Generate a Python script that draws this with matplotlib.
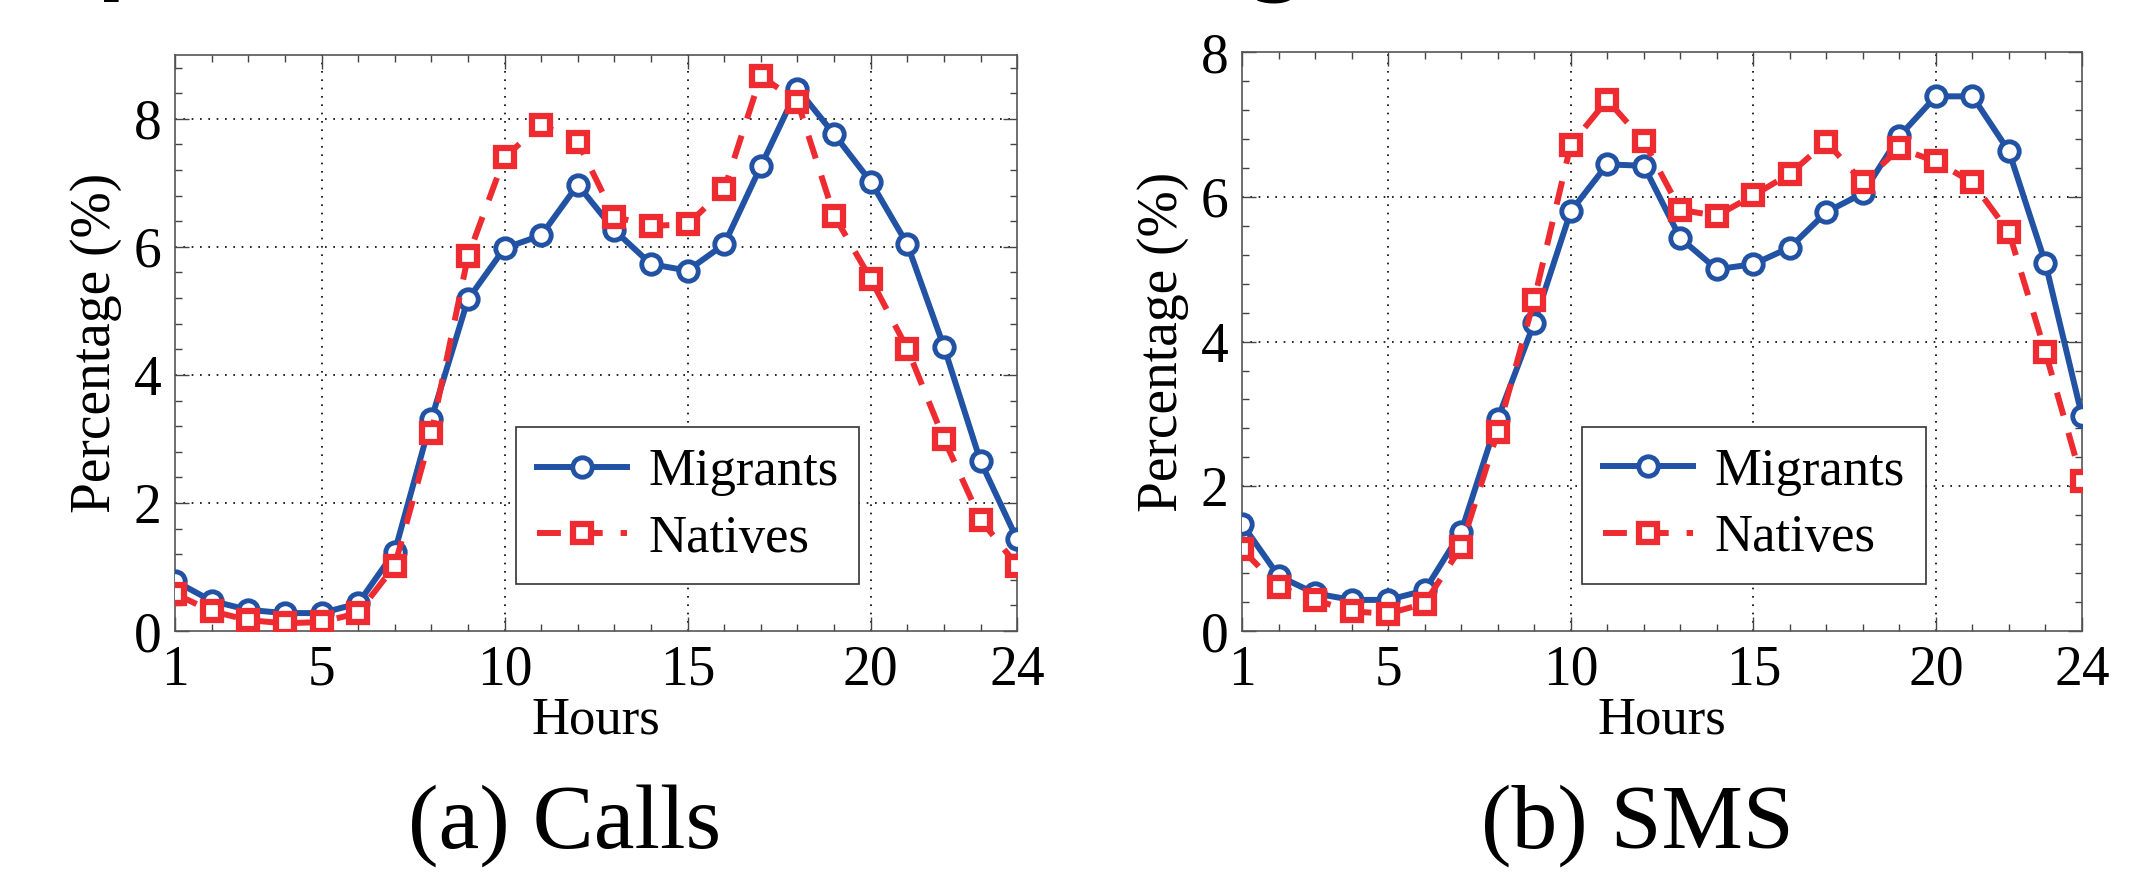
import matplotlib
matplotlib.use('Agg')
import matplotlib.pyplot as plt
from matplotlib.ticker import MultipleLocator, FixedLocator
import numpy as np

hours = list(range(1, 25))

# (a) Calls
calls_migrants = [0.78, 0.47, 0.33, 0.28, 0.28, 0.43, 1.24, 3.31, 5.18, 5.98, 6.18, 6.97,
                  6.26, 5.73, 5.63, 6.04, 7.26, 8.47, 7.76, 7.02, 6.04, 4.44, 2.65, 1.43]
calls_natives = [0.58, 0.31, 0.17, 0.12, 0.14, 0.28, 1.02, 3.09, 5.85, 7.40, 7.91, 7.64,
                 6.47, 6.33, 6.35, 6.90, 8.67, 8.27, 6.49, 5.50, 4.41, 3.00, 1.74, 1.02]

# (b) SMS
sms_migrants = [1.48, 0.76, 0.52, 0.43, 0.43, 0.56, 1.37, 2.93, 4.26, 5.80, 6.45, 6.43,
                5.43, 5.00, 5.07, 5.30, 5.79, 6.05, 6.84, 7.39, 7.39, 6.63, 5.08, 2.97]
sms_natives = [1.13, 0.61, 0.43, 0.27, 0.24, 0.38, 1.16, 2.75, 4.58, 6.72, 7.34, 6.77,
               5.82, 5.74, 6.02, 6.32, 6.76, 6.20, 6.67, 6.49, 6.20, 5.51, 3.85, 2.08]

panels = [("(a) Calls", calls_migrants, calls_natives, 9.0, 0.264),
          ("(b) SMS", sms_migrants, sms_natives, 8.0, 0.765)]

BLUE = '#2152a3'
RED = '#ee2b30'

plt.rcParams['font.family'] = 'serif'
plt.rcParams['font.serif'] = ['Liberation Serif', 'DejaVu Serif']

fig = plt.figure(figsize=(21.4, 8.73), dpi=100)
axes_rects = [[0.0818, 0.2772, 0.3935, 0.660],
              [0.5804, 0.2772, 0.3925, 0.663]]

for rect, (caption, mig, nat, ymax, cx) in zip(axes_rects, panels):
    ax = fig.add_axes(rect)
    ax.plot(hours, mig, '-o', color=BLUE, lw=4.3, ms=14, mew=3.5,
            mfc='white', mec=BLUE, label='Migrants', zorder=3)
    ax.plot(hours, nat, '--s', color=RED, lw=4.3, ms=13, mew=4.5,
            mfc='white', mec=RED, label='Natives', dashes=(4, 3), zorder=4)

    ax.set_xlim(1, 24)
    ax.set_ylim(0, ymax)
    ax.xaxis.set_major_locator(FixedLocator([1, 5, 10, 15, 20, 24]))
    ax.xaxis.set_minor_locator(MultipleLocator(1))
    ax.yaxis.set_major_locator(MultipleLocator(2))
    ax.yaxis.set_minor_locator(MultipleLocator(0.4))
    ax.tick_params(which='both', direction='in', top=True, right=True,
                   labelsize=40, color='#444444')
    ax.tick_params(which='major', length=10, width=1, pad=10)
    ax.tick_params(which='minor', length=5, width=1)
    for s in ax.spines.values():
        s.set_color('#555555')
        s.set_linewidth(1.2)

    for xv in [5, 10, 15, 20]:
        ax.axvline(xv, color='black', lw=1.2, ls=(0, (1, 4)), zorder=1)
    for yv in np.arange(2, ymax, 2):
        ax.axhline(yv, color='black', lw=1.2, ls=(0, (1, 4)), zorder=1)

    ax.set_xlabel('Hours', fontsize=38, labelpad=0)
    ax.set_ylabel('Percentage (%)', fontsize=40, labelpad=8)

    leg = ax.legend(loc='lower left', bbox_to_anchor=(0.405, 0.082), fontsize=38,
                    handlelength=1.7, handletextpad=0.4, borderpad=0.4,
                    labelspacing=0.35, borderaxespad=0, fancybox=False, framealpha=1)
    leg.get_frame().set_edgecolor('#333333')
    leg.get_frame().set_linewidth(1.2)

    fig.text(cx, 0.054, caption, ha='center', va='center', fontsize=66)

# descender tips of a heading that is cut off above the figure
fig.text(0.0453, 1.017, 'p', fontsize=60, fontweight='bold', family='DejaVu Sans',
         va='baseline', ha='left')
fig.text(0.583, 1.017, 'g', fontsize=60, fontweight='bold', family='DejaVu Sans',
         va='baseline', ha='left')

fig.savefig('out.png', dpi=100)
